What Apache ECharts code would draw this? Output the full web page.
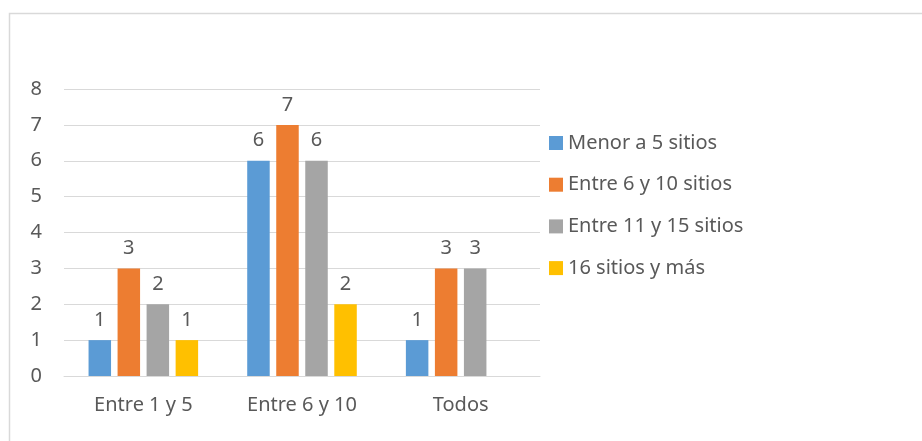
<!DOCTYPE html>
<html>
<head>
<meta charset="utf-8">
<script src="https://cdn.jsdelivr.net/npm/echarts@6/dist/echarts.min.js"></script>
<style>
  html, body { margin: 0; padding: 0; background: #fff; }
  #chart { width: 922px; height: 441px; }
</style>
</head>
<body>
<div id="chart"></div>
<script>
var categories = ['Entre 1 y 5', 'Entre 6 y 10', 'Todos'];
var seriesNames = ['Menor a 5 sitios', 'Entre 6 y 10 sitios', 'Entre 11 y 15 sitios', '16 sitios y más'];
var menor5 = [1, 6, 1];
var entre6y10 = [3, 7, 3];
var entre11y15 = [2, 6, 3];
var mas16 = [1, 2, null];
var colors = ['#5B9BD5', '#ED7D31', '#A5A5A5', '#FFC000'];

var font = '"Noto Sans", "Open Sans", sans-serif';
var textColor = '#595959';

function makeSeries(name, data, i) {
    return {
        name: name,
        type: 'bar',
        data: data,
        barWidth: 22.5,
        barGap: '29%',
        itemStyle: { color: colors[i] },
        label: {
            show: true,
            position: 'top',
            distance: 10,
            color: textColor,
            fontSize: 20,
            fontFamily: font
        }
    };
}

var myChart = echarts.init(document.getElementById('chart'));
var option = {
    animation: false,
    graphic: [{
        type: 'rect',
        shape: { x: 9.5, y: 13.5, width: 1000, height: 1000 },
        style: { fill: 'none', stroke: '#d9d9d9', lineWidth: 1.5 },
        silent: true
    }],
    grid: { left: 64, right: 382, top: 89, bottom: 65 },
    legend: {
        orient: 'vertical',
        left: 549,
        top: 131,
        padding: 0,
        itemWidth: 14,
        itemHeight: 14,
        itemGap: 17.7,
        icon: 'rect',
        data: seriesNames,
        textStyle: { color: textColor, fontSize: 20, fontFamily: font, lineHeight: 24 }
    },
    xAxis: {
        type: 'category',
        data: categories,
        axisLine: { lineStyle: { color: '#d9d9d9', width: 1 } },
        axisTick: { show: false },
        axisLabel: { color: textColor, fontSize: 20, fontFamily: font, margin: 19 }
    },
    yAxis: {
        type: 'value',
        min: 0,
        max: 8,
        interval: 1,
        axisLine: { show: false },
        axisTick: { show: false },
        splitLine: { lineStyle: { color: '#d9d9d9', width: 1 } },
        axisLabel: { color: textColor, fontSize: 20, fontFamily: font, margin: 22 }
    },
    series: [
        makeSeries(seriesNames[0], menor5, 0),
        makeSeries(seriesNames[1], entre6y10, 1),
        makeSeries(seriesNames[2], entre11y15, 2),
        makeSeries(seriesNames[3], mas16, 3)
    ]
};
myChart.setOption(option);
</script>
</body>
</html>
